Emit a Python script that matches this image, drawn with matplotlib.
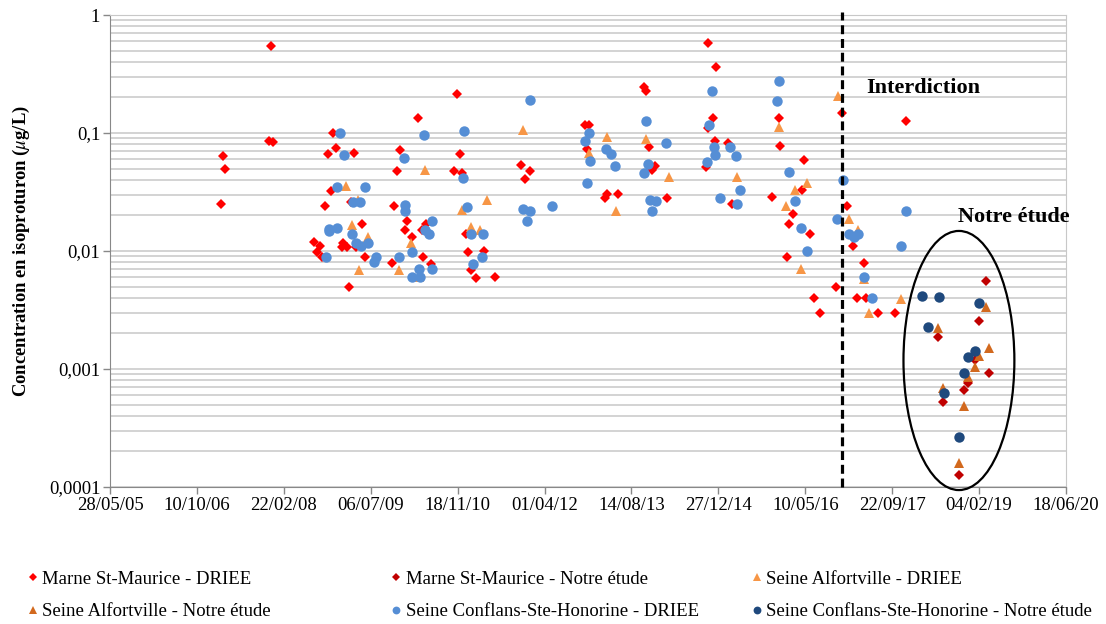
import numpy as np
import matplotlib
matplotlib.use("Agg")
import matplotlib.pyplot as plt
import matplotlib.dates as mdates
from matplotlib.patches import Ellipse

plt.rcParams['font.family'] = ['Liberation Serif', 'DejaVu Serif']
plt.rcParams['mathtext.fontset'] = 'stix'

# Marne St-Maurice - DRIEE
marne_driee_dates = [
    '2007-02-26', '2007-03-10', '2007-03-19', '2007-11-27', '2007-12-21', '2007-12-09',
    '2008-08-15', '2008-09-15', '2008-08-30', '2008-10-01', '2008-10-16', '2008-11-04',
    '2008-11-19', '2008-11-29', '2008-12-16', '2009-01-21', '2009-01-29', '2009-02-17',
    '2009-03-03', '2009-03-14', '2009-04-02', '2009-04-10', '2009-05-15', '2009-06-05',
    '2009-11-05', '2009-11-19', '2009-12-04', '2009-12-20', '2010-01-21', '2010-02-02',
    '2010-03-02', '2010-04-06', '2010-04-26', '2010-05-05', '2010-05-19', '2010-06-18',
    '2010-10-30', '2010-11-17', '2010-11-30', '2010-12-13', '2011-01-03', '2011-01-18',
    '2011-02-01', '2011-03-02', '2011-04-20', '2011-06-23', '2011-11-16', '2011-12-11',
    '2012-01-06', '2012-11-20', '2012-12-15', '2012-11-30', '2013-03-15', '2013-03-25',
    '2013-05-27', '2013-10-25', '2013-11-06', '2013-11-22', '2013-12-09', '2013-12-28',
    '2014-03-09', '2014-10-16', '2014-10-27', '2014-10-29', '2014-11-28', '2014-12-08',
    '2014-12-16', '2015-02-23', '2015-03-14', '2015-11-03', '2015-12-10', '2015-12-17',
    '2016-01-28', '2016-02-05', '2016-03-03', '2016-04-20', '2016-05-03', '2016-06-05',
    '2016-07-01', '2016-08-02', '2016-11-02', '2016-12-07', '2017-01-03', '2017-02-07',
    '2017-03-02', '2017-04-11', '2017-04-27', '2017-07-02', '2017-10-10', '2017-12-11',
]
marne_driee_conc = [
    0.0249, 0.064, 0.0497, 0.085, 0.084, 0.543,
    0.0119, 0.011, 0.0098, 0.0089, 0.024, 0.0658,
    0.032, 0.0998, 0.074, 0.0108, 0.0117, 0.0108,
    0.005, 0.0262, 0.0675, 0.0108, 0.0169, 0.0089,
    0.0079, 0.024, 0.048, 0.0716, 0.015, 0.0181,
    0.0131, 0.133, 0.015, 0.0089, 0.0169, 0.0078,
    0.048, 0.214, 0.0658, 0.0454, 0.0139, 0.0098,
    0.0069, 0.0059, 0.010, 0.006, 0.054, 0.0409,
    0.048, 0.1167, 0.1167, 0.0731, 0.0279, 0.0306,
    0.0306, 0.243, 0.228, 0.0765, 0.0484, 0.0525,
    0.0279, 0.0516, 0.58, 0.11, 0.133, 0.0854,
    0.365, 0.0815, 0.0249, 0.0289, 0.133, 0.078,
    0.0089, 0.0169, 0.0207, 0.0329, 0.0589, 0.014,
    0.004, 0.003, 0.005, 0.147, 0.024, 0.011,
    0.004, 0.0079, 0.004, 0.003, 0.003, 0.126,
]

# Marne St-Maurice - Notre étude
marne_etude_dates = ['2018-06-11', '2018-07-10', '2018-10-11', '2018-11-09', '2018-12-02',
                     '2019-01-14', '2019-02-01', '2019-03-17', '2019-04-02']
marne_etude_conc = [0.00188, 0.00053, 0.000127, 0.00066, 0.00076,
                    0.00119, 0.00257, 0.00556, 0.00093]

# Seine Alfortville - DRIEE
alfort_driee_dates = [
    '2009-02-12', '2009-03-22', '2009-04-22', '2009-05-01', '2009-06-22', '2009-12-17',
    '2010-02-23', '2010-04-12', '2010-05-14', '2010-12-15', '2011-02-03', '2011-03-27',
    '2011-05-08', '2011-11-30', '2012-12-13', '2013-03-25', '2013-05-17', '2013-11-06',
    '2014-03-19', '2015-04-12', '2015-12-10', '2016-01-21', '2016-03-14', '2016-04-18',
    '2016-05-19', '2016-11-16', '2017-01-15', '2017-03-12', '2017-04-13', '2017-05-13',
    '2017-11-14',
]
alfort_driee_conc = [
    0.0356, 0.0166, 0.0273, 0.0069, 0.0132, 0.0069,
    0.0118, 0.006, 0.0484, 0.0224, 0.0161, 0.015,
    0.0273, 0.106, 0.0679, 0.0921, 0.0218, 0.0889,
    0.0426, 0.0426, 0.113, 0.024, 0.0329, 0.007,
    0.038, 0.2056, 0.0188, 0.015, 0.0058, 0.003,
    0.00395,
]

# Seine Alfortville - Notre étude
alfort_etude_dates = ['2018-06-11', '2018-07-10', '2018-10-11', '2018-11-09', '2018-12-02',
                      '2019-01-10', '2019-02-01', '2019-03-17', '2019-04-02']
alfort_etude_conc = [0.00222, 0.00069, 0.000159, 0.00049, 0.00085,
                     0.00104, 0.0013, 0.00333, 0.00152]

# Seine Conflans-Ste-Honorine - DRIEE
conflans_driee_dates = [
    '2008-10-20', '2008-11-06', '2008-11-10', '2008-12-22', '2008-12-24', '2009-01-12',
    '2009-02-04', '2009-03-22', '2009-03-26', '2009-04-11', '2009-05-04', '2009-05-13',
    '2009-06-03', '2009-06-19', '2009-07-27', '2009-08-04', '2009-12-17', '2010-01-15',
    '2010-01-19', '2010-01-21', '2010-02-27', '2010-03-02', '2010-04-12', '2010-04-16',
    '2010-05-07', '2010-05-14', '2010-06-08', '2010-06-22', '2010-06-22', '2010-12-21',
    '2010-12-25', '2011-01-09', '2011-02-03', '2011-02-13', '2011-04-05', '2011-04-15',
    '2011-11-30', '2011-12-21', '2012-01-11', '2012-01-11', '2012-05-15', '2012-11-20',
    '2012-11-30', '2012-12-15', '2012-12-19', '2013-03-19', '2013-04-18', '2013-05-11',
    '2013-10-25', '2013-11-04', '2013-11-19', '2013-11-29', '2013-12-09', '2014-01-04',
    '2014-03-03', '2014-10-25', '2014-11-05', '2014-11-19', '2014-12-02', '2014-12-10',
    '2015-01-06', '2015-03-05', '2015-04-08', '2015-04-16', '2015-05-03', '2015-12-02',
    '2015-12-10', '2016-02-09', '2016-03-14', '2016-04-18', '2016-05-19', '2016-11-10',
    '2016-12-15', '2017-01-15', '2017-02-17', '2017-03-12', '2017-04-13', '2017-05-28',
    '2017-11-14', '2017-12-11',
]
conflans_driee_conc = [
    0.0089, 0.0155, 0.0148, 0.0158, 0.0346, 0.1004,
    0.065, 0.0139, 0.0258, 0.0118, 0.0258, 0.011,
    0.0346, 0.0118, 0.008, 0.0089, 0.0089, 0.0618,
    0.0245, 0.022, 0.0098, 0.006, 0.007, 0.006,
    0.097, 0.015, 0.0139, 0.018, 0.007, 0.0414,
    0.104, 0.0238, 0.0139, 0.0078, 0.0089, 0.0139,
    0.0229, 0.018, 0.191, 0.0218, 0.024, 0.0861,
    0.038, 0.0993, 0.0578, 0.0731, 0.0658, 0.0525,
    0.0454, 0.127, 0.0541, 0.027, 0.0218, 0.0263,
    0.0815, 0.0567, 0.118, 0.227, 0.0755, 0.0655,
    0.0279, 0.0755, 0.0637, 0.0249, 0.0329, 0.188,
    0.276, 0.0468, 0.0263, 0.0158, 0.010, 0.0188,
    0.040, 0.0139, 0.0131, 0.0139, 0.006, 0.004,
    0.011, 0.0218,
]

# Seine Conflans-Ste-Honorine - Notre étude
conflans_etude_dates = ['2018-03-13', '2018-04-15', '2018-06-16', '2018-07-15', '2018-10-11',
                        '2018-11-09', '2018-12-02', '2019-01-14', '2019-02-01']
conflans_etude_conc = [0.00418, 0.00227, 0.00406, 0.00063, 0.000265,
                       0.00093, 0.00126, 0.00141, 0.00363]

y_ticks = [1e-4, 1e-3, 1e-2, 1e-1, 1]
y_ticklabels = ['0,0001', '0,001', '0,01', '0,1', '1']
ban_date = '2016-12-06'

series = [
    ('Marne St-Maurice - DRIEE', marne_driee_dates, marne_driee_conc, 'D', '#FF0000', 5.2),
    ('Marne St-Maurice - Notre étude', marne_etude_dates, marne_etude_conc, 'D', '#C00000', 5.2),
    ('Seine Alfortville - DRIEE', alfort_driee_dates, alfort_driee_conc, '^', '#F79646', 7.5),
    ('Seine Alfortville - Notre étude', alfort_etude_dates, alfort_etude_conc, '^', '#D2691E', 7.5),
    ('Seine Conflans-Ste-Honorine - DRIEE', conflans_driee_dates, conflans_driee_conc, 'o', '#558ED5', 7.5),
    ('Seine Conflans-Ste-Honorine - Notre étude', conflans_etude_dates, conflans_etude_conc, 'o', '#1F497D', 7.5),
]

W, H = 1106, 624
fig = plt.figure(figsize=(W / 100, H / 100), dpi=100)
ax = fig.add_axes([110 / W, 1 - 487 / H, 956 / W, 472 / H])

handles = []
for label, dates, conc, marker, color, size in series:
    x = mdates.datestr2num(dates)
    h, = ax.plot(x, conc, linestyle='none', marker=marker, color=color,
                 markersize=size, markeredgewidth=0, label=label, zorder=3)
    handles.append(h)

ax.set_yscale('log')
ax.set_ylim(1e-4, 1)
ax.set_yticks(y_ticks)
ax.set_yticklabels(y_ticklabels)
ax.yaxis.set_minor_formatter(matplotlib.ticker.NullFormatter())
ax.tick_params(axis='y', which='minor', length=0)

start = mdates.datestr2num('2005-05-28')
xticks = start + 500 * np.arange(12)
ax.set_xlim(xticks[0], xticks[-1])
ax.set_xticks(xticks)
ax.xaxis.set_major_formatter(mdates.DateFormatter('%d/%m/%y'))

ax.tick_params(axis='both', which='major', labelsize=13.5, length=5,
               color='#888888', width=1, pad=2)
ax.grid(True, which='both', axis='y', color='#C8C8C8', linewidth=1.1)
ax.set_axisbelow(True)
for side in ['left', 'bottom']:
    ax.spines[side].set_color('#888888')
for side in ['right', 'top']:
    ax.spines[side].set_color('#C8C8C8')

ax.set_ylabel(r'Concentration en isoproturon ($\mu$g/L)', fontsize=13.4,
              fontweight='bold', labelpad=12)

# ban date marker
ax.axvline(mdates.datestr2num(ban_date), ymin=0, ymax=1.007, color='black',
           linewidth=2.3, dashes=(2.8, 1.5), clip_on=False, zorder=4)
ax.text(0.791, 0.845, 'Interdiction', transform=ax.transAxes, fontsize=16,
        fontweight='bold', ha='left', va='center')

# our sampling campaign
ax.add_patch(Ellipse((0.888, 0.268), 0.116, 0.549, transform=ax.transAxes,
                     fill=False, edgecolor='black', linewidth=1.6, clip_on=False, zorder=5))
ax.text(0.887, 0.572, 'Notre étude', transform=ax.transAxes, fontsize=16,
        fontweight='bold', ha='left', va='center')

# legend: three columns, two rows
col_x = [20 / W, 383 / W, 744 / W]
for i, cx in enumerate(col_x):
    fig.legend([handles[i], handles[i + 3]], [series[i][0], series[i + 3][0]],
               loc='upper left', bbox_to_anchor=(cx, 1 - 563 / H), frameon=False,
               fontsize=13.5, handlelength=0.6, handletextpad=0.2,
               labelspacing=0.82, markerscale=0.75, borderaxespad=0)

fig.savefig('out.png', dpi=100)
